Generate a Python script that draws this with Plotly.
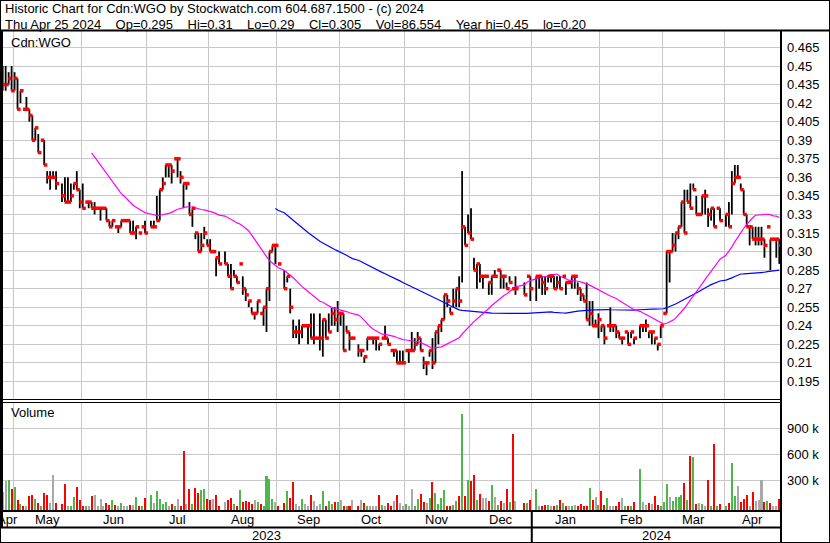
import numpy as np
import pandas as pd
import plotly.graph_objects as go

W, H = 830, 543

# ---------------- data ----------------
start_date, end_date = "2023-04-25", "2024-04-25"
holidays = ["2023-05-22", "2023-07-03", "2023-08-07", "2023-09-04", "2023-10-09",
            "2023-12-25", "2023-12-26", "2024-01-01", "2024-02-19", "2024-03-29"]

high = [
    .45, .45, .445, .45, .445, .44, .43, .415, .425, .415, .41, .40, .395, .39, .39, .365, .365, .365, .365, .355,
    .36, .36, .355, .355, .365, .35, .355, .34, .34, .34, .34, .335, .335, .335, .335, .325, .325, .32, .32, .325,
    .325, .325, .325, .325, .32, .315, .32, .325, .325, .325, .345, .35, .36, .37, .37, .37, .375, .375, .365, .355,
    .355, .34, .335, .315, .315,
    .315, .32, .31, .31, .30, .295, .30, .30, .29, .29, .285, .28, .29, .28, .27, .26, .255, .25, .26, .25,
    .255, .27, .30, .305, .305, .29, .285, .28, .27, .245, .24, .245, .24, .24, .24, .25, .25, .23, .25, .245,
    .245, .25, .255, .255, .26, .25, .25, .24, .235, .23, .225, .22, .215, .23, .23, .23, .23, .225, .23, .24,
    .23, .22, .22,
    .22, .22, .22, .22, .22, .235, .23, .235, .23, .215, .21, .22, .23, .235, .24, .245, .265, .265, .255, .27,
    .27, .28, .365, .32, .33, .335, .295, .29, .29, .28, .28, .275, .28, .285, .285, .285, .28, .275, .28, .27,
    .28, .275, .28, .28, .28, .28, .28, .28, .28, .28, .28, .28, .28, .28, .275, .275, .28, .28, .275, .27,
    .265, .275,
    .26, .26, .245, .25, .24, .24, .24, .255, .24, .24, .235, .23, .235, .235, .235, .23, .24, .24, .245, .235,
    .235, .23, .225, .24, .25, .30, .30, .315, .315, .32, .34, .35, .35, .355, .355, .345, .33, .345, .35, .335,
    .335, .335, .335, .335, .33, .34, .365, .37, .37, .355, .35, .33, .32, .32, .32, .32, .32, .31, .32, .31,
    .31, .31, .31,
]
low = [
    .43, .43, .435, .43, .43, .415, .42, .415, .415, .405, .39, .39, .38, .39, .37, .355, .35, .36, .35, .34,
    .34, .34, .34, .35, .35, .335, .335, .34, .335, .335, .33, .335, .325, .335, .325, .32, .32, .32, .315, .32,
    .325, .325, .315, .315, .31, .315, .32, .315, .32, .32, .325, .325, .35, .36, .36, .355, .375, .36, .355, .335,
    .35, .33, .32, .31, .30,
    .30, .31, .305, .30, .30, .28, .29, .29, .28, .27, .28, .275, .29, .265, .26, .255, .25, .245, .25, .25,
    .24, .235, .26, .30, .29, .29, .27, .275, .25, .23, .23, .225, .23, .24, .225, .23, .225, .23, .22, .215,
    .23, .235, .24, .24, .235, .24, .22, .235, .22, .23, .215, .215, .21, .22, .23, .225, .22, .22, .23, .23,
    .225, .22, .215,
    .21, .21, .21, .22, .21, .22, .22, .225, .22, .205, .20, .215, .205, .21, .225, .235, .245, .255, .25, .255,
    .255, .255, .275, .305, .315, .31, .285, .27, .275, .27, .28, .265, .265, .28, .285, .27, .27, .27, .275, .27,
    .265, .265, .28, .26, .26, .27, .265, .265, .275, .275, .27, .27, .27, .28, .265, .275, .27, .27, .265, .26,
    .26, .245,
    .24, .24, .24, .23, .235, .225, .24, .235, .235, .23, .23, .225, .235, .225, .23, .225, .23, .235, .235, .23,
    .225, .225, .22, .23, .25, .25, .275, .30, .30, .31, .32, .315, .34, .335, .35, .33, .33, .33, .33, .32,
    .325, .32, .335, .325, .32, .32, .33, .355, .36, .35, .33, .32, .305, .31, .305, .305, .305, .295, .32, .285,
    .31, .295, .29,
]
close = [
    .435, .435, .44, .43, .44, .415, .43, .415, .415, .41, .39, .40, .38, .39, .37, .36, .36, .36, .355, .345,
    .34, .34, .345, .355, .35, .34, .335, .34, .34, .335, .335, .335, .335, .335, .325, .32, .325, .32, .32, .325,
    .325, .325, .315, .315, .32, .315, .32, .315, .32, .32, .325, .35, .355, .37, .37, .365, .375, .375, .36, .355,
    .355, .33, .335, .315, .30,
    .305, .315, .305, .30, .30, .295, .29, .29, .28, .27, .28, .275, .29, .27, .265, .26, .25, .25, .26, .25,
    .255, .27, .30, .305, .305, .29, .27, .28, .255, .235, .235, .235, .24, .24, .24, .23, .23, .23, .23, .245,
    .23, .235, .25, .245, .25, .25, .22, .235, .23, .23, .22, .22, .215, .23, .23, .23, .23, .225, .23, .23,
    .225, .22, .22,
    .21, .21, .21, .22, .22, .22, .225, .23, .22, .21, .21, .22, .21, .235, .24, .245, .265, .26, .25, .26,
    .27, .26, .32, .305, .315, .31, .285, .29, .28, .28, .28, .275, .28, .28, .285, .28, .28, .27, .275, .27,
    .27, .265, .28, .27, .28, .28, .275, .27, .28, .28, .27, .275, .27, .28, .275, .275, .28, .28, .27, .265,
    .26, .245,
    .25, .24, .24, .245, .24, .23, .24, .24, .24, .235, .23, .23, .235, .225, .235, .23, .24, .24, .24, .235,
    .235, .23, .225, .24, .25, .30, .30, .305, .315, .32, .34, .315, .34, .335, .35, .33, .33, .345, .345, .33,
    .335, .32, .335, .325, .33, .32, .355, .36, .36, .35, .33, .32, .32, .31, .31, .31, .31, .305, .32, .31,
    .31, .31, .305,
]
volume_k = [
    169, 296, 304, 204, 223, 77, 31, 5, 4, 119, 131, 85, 38, 4, 154, 131, 38, 362, 38, 27,
    258, 8, 4, 108, 223, 77, 4, 6, 5, 119, 131, 4, 85, 6, 38, 15, 73, 15, 6, 38,
    4, 5, 15, 15, 108, 8, 8, 96, 131, 38, 177, 85, 27, 50, 4, 27, 5, 85, 8, 638,
    27, 200, 27, 212, 154, 188, 200, 85, 77, 85, 131, 8, 50, 73, 96, 27, 6, 188, 50, 62,
    50, 27, 73, 50, 27, 5, 350, 315, 85, 50, 5, 38, 177, 96, 281, 27, 8, 85, 27, 8,
    131, 62, 5, 27, 177, 8, 62, 27, 50, 50, 73, 8, 5, 8, 73, 8, 73, 38, 8, 8,
    8, 5, 131, 15, 4, 38, 5,
    62, 131, 38, 3, 27, 5, 200, 3, 85, 142, 50, 38, 96, 281, 154, 27, 96, 188, 3, 3,
    15, 62, 119, 1065, 119, 304, 292, 362, 73, 142, 96, 96, 62, 246, 108, 15, 62, 38, 200, 50,
    835, 62, 38, 38, 73, 200, 8, 8, 15, 15, 5, 5, 15, 73, 38, 8, 8, 8, 10, 8,
    27, 5, 8, 212, 73, 108, 15, 177, 15, 96, 3, 5, 3, 50, 96, 5, 3, 5, 50, 431,
    50, 15, 38, 27, 119, 20, 8, 50, 258, 108, 62, 108, 108, 131, 269, 73, 581, 569, 27, 38,
    27, 8, 304, 5, 719, 8, 27, 5, 38, 500, 119, 235, 50, 85, 131, 5, 165, 62, 73, 304,
    50, 62, 38, 3, 8, 86.554,
]
volume = [v * 1000 for v in volume_k]

price_ticks = [0.195, 0.21, 0.225, 0.24, 0.255, 0.27, 0.285, 0.30, 0.315, 0.33, 0.345,
               0.36, 0.375, 0.39, 0.405, 0.42, 0.435, 0.45, 0.465]
price_tick_text = ["0.195", "0.21", "0.225", "0.24", "0.255", "0.27", "0.285", "0.30", "0.315", "0.33",
                   "0.345", "0.36", "0.375", "0.39", "0.405", "0.42", "0.435", "0.45", "0.465"]
vol_ticks = [300000, 600000, 900000]
vol_tick_text = ["300 k", "600 k", "900 k"]

header1 = "Historic Chart for Cdn:WGO by Stockwatch.com 604.687.1500 - (c) 2024"
header2_items = ["Thu Apr 25 2024", "Op=0.295", "Hi=0.31", "Lo=0.29", "Cl=0.305",
                 "Vol=86,554", "Year hi=0.45", "lo=0.20"]
symbol_label = "Cdn:WGO"
volume_label = "Volume"

# ---------------- derived ----------------
weekdays = pd.bdate_range(start_date, end_date)
dates = [d for d in weekdays if d.strftime("%Y-%m-%d") not in holidays]
n = len(dates)
assert len(high) == n and len(low) == n and len(close) == n and len(volume) == n, \
    (n, len(high), len(low), len(close), len(volume))

slot_of = {d: i for i, d in enumerate(weekdays)}
x = np.array([slot_of[d] for d in dates], dtype=float)

closes = pd.Series(close)
ma30 = closes.rolling(30).mean()
ma90 = closes.rolling(90).mean()

UP, DOWN, FLAT = "#4cb84c", "#ff0000", "#a9a9a9"
vol_colors = []
for i in range(n):
    if i == 0 or close[i] == close[i - 1]:
        vol_colors.append(FLAT)
    elif close[i] > close[i - 1]:
        vol_colors.append(UP)
    else:
        vol_colors.append(DOWN)

# month structure from weekday slots
months = []
cur = None
for i, d in enumerate(weekdays):
    key = (d.year, d.month)
    if key != cur:
        months.append([key, i, i])
        cur = key
    else:
        months[-1][2] = i
boundaries = [m[1] - 0.5 for m in months[1:]]
month_abbr = ["Jan", "Feb", "Mar", "Apr", "May", "Jun", "Jul", "Aug", "Sep", "Oct", "Nov", "Dec"]

def px(v):
    return v / W

def py(v):
    return 1 - v / H

X_LO, X_HI = -0.236, 262.58
P_LO, P_HI = 0.1808, 0.4783
V_LO, V_HI = -42700, 1191900

FONT = "Arial, 'Liberation Sans', sans-serif"
GRID = "#c8c8c8"

fig = go.Figure()

# volume bars
fig.add_trace(go.Bar(
    x=x, y=[v - V_LO for v in volume], base=V_LO, width=0.68,
    marker=dict(color=vol_colors, line=dict(width=0)),
    xaxis="x2", yaxis="y2", hoverinfo="skip"))

# high-low lines
hx, hy = [], []
for xi, h, l in zip(x, high, low):
    hx += [xi, xi, None]
    hy += [l, h, None]
fig.add_trace(go.Scatter(x=hx, y=hy, mode="lines", line=dict(color="black", width=1.8),
                         hoverinfo="skip", xaxis="x", yaxis="y"))

# moving averages
fig.add_trace(go.Scatter(x=x, y=ma90, mode="lines", line=dict(color="#0000ff", width=1.2),
                         xaxis="x", yaxis="y", hoverinfo="skip"))
fig.add_trace(go.Scatter(x=x, y=ma30, mode="lines", line=dict(color="#ff00ff", width=1.2),
                         xaxis="x", yaxis="y", hoverinfo="skip"))

# close ticks
fig.add_trace(go.Scatter(x=x + 0.45, y=close, mode="markers",
                         marker=dict(symbol="square", size=3.5, color="#ff0000", line=dict(width=0)),
                         xaxis="x", yaxis="y", hoverinfo="skip"))

axis_common = dict(range=[X_LO, X_HI], tickvals=boundaries, showticklabels=False, showgrid=True,
                   gridcolor=GRID, gridwidth=1, zeroline=False, showline=False, ticks="",
                   domain=[px(2), px(781)], fixedrange=True)

fig.update_layout(
    width=W, height=H, margin=dict(l=0, r=0, t=0, b=0),
    paper_bgcolor="white", plot_bgcolor="white", showlegend=False, bargap=0,
    font=dict(family=FONT, size=13, color="black"),
    xaxis=dict(anchor="y", **axis_common),
    xaxis2=dict(anchor="y2", matches="x", **axis_common),
    yaxis=dict(domain=[py(399), py(31)], range=[P_LO, P_HI], side="right", anchor="x",
               tickvals=price_ticks, ticktext=price_tick_text, showgrid=True, gridcolor=GRID,
               zeroline=False, ticks="", ticklabelstandoff=5, fixedrange=True,
               tickfont=dict(family=FONT, size=13, color="black")),
    yaxis2=dict(domain=[py(510), py(403)], range=[V_LO, V_HI], side="right", anchor="x2",
                tickvals=vol_ticks, ticktext=vol_tick_text, showgrid=True, gridcolor=GRID,
                zeroline=False, ticks="", ticklabelstandoff=5, fixedrange=True,
                tickfont=dict(family=FONT, size=13, color="black")),
)

ann = []
gap = "\u00a0\u00a0\u00a0\u00a0"
header2 = gap.join(header2_items)
ann.append(dict(text=header1, x=px(3), y=py(9), xref="paper", yref="paper", xanchor="left",
                yanchor="middle", showarrow=False, font=dict(size=13)))
ann.append(dict(text=header2, x=px(3), y=py(24), xref="paper", yref="paper", xanchor="left",
                yanchor="middle", showarrow=False, font=dict(size=13)))
ann.append(dict(text=symbol_label, x=px(9), y=py(42), xref="paper", yref="paper", xanchor="left",
                yanchor="middle", showarrow=False, font=dict(size=13)))
ann.append(dict(text=volume_label, x=px(9), y=py(413), xref="paper", yref="paper", xanchor="left",
                yanchor="middle", showarrow=False, font=dict(size=13)))
for (yr, mo), a, b in months:
    ann.append(dict(text=month_abbr[mo - 1], x=(a + b) / 2, y=py(519), xref="x2", yref="paper",
                    xanchor="center", yanchor="middle", showarrow=False, font=dict(size=13)))
year_split = [m[1] - 0.5 for m in months if m[0][1] == 1][0]
ann.append(dict(text="2023", x=(X_LO + year_split) / 2, y=py(535), xref="x2", yref="paper",
                xanchor="center", yanchor="middle", showarrow=False, font=dict(size=13)))
ann.append(dict(text="2024", x=(year_split + X_HI) / 2, y=py(535), xref="x2", yref="paper",
                xanchor="center", yanchor="middle", showarrow=False, font=dict(size=13)))
fig.update_layout(annotations=ann)

shapes = []
def hline(y, x0, x1, w):
    shapes.append(dict(type="line", xref="paper", yref="paper", x0=px(x0), x1=px(x1),
                       y0=py(y), y1=py(y), line=dict(color="black", width=w)))
def vline(xv, y0, y1, w):
    shapes.append(dict(type="line", xref="paper", yref="paper", x0=px(xv), x1=px(xv),
                       y0=py(y0), y1=py(y1), line=dict(color="black", width=w)))

hline(0.5, 0, 830, 1)
hline(542.5, 0, 830, 1)
vline(0.5, 0, 543, 1)
vline(829.5, 0, 543, 1)
vline(1.5, 30, 527, 3)
hline(30.5, 0, 830, 2)
vline(781, 30, 543, 2)
hline(399.5, 0, 781, 1)
hline(402.5, 0, 781, 1)
hline(511, 0, 781, 2)
hline(527.5, 0, 781, 2)
# year divider in the date rows
shapes.append(dict(type="line", xref="x2", yref="paper", x0=year_split, x1=year_split,
                   y0=py(511), y1=py(543), line=dict(color="black", width=2)))
fig.update_layout(shapes=shapes)

fig.write_html("out.html", config={"displayModeBar": False, "staticPlot": True})

# remove the default page margin so the figure sits at the window's top-left corner
with open("out.html", "r", encoding="utf-8") as f:
    page = f.read()
page = page.replace("<head>", "<head><style>html,body{margin:0;padding:0;overflow:hidden;}</style>", 1)
with open("out.html", "w", encoding="utf-8") as f:
    f.write(page)
